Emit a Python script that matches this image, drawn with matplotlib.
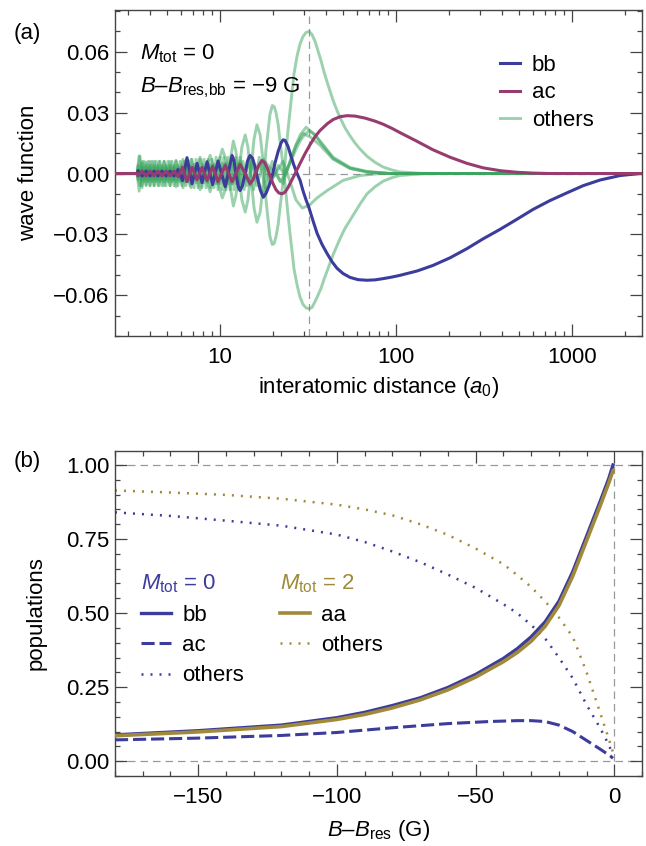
import numpy as np
import matplotlib.pyplot as plt
from matplotlib.ticker import MultipleLocator, FixedLocator, LogLocator, FuncFormatter, NullFormatter

#---------- STYLE -----------------------
plt.rcParams['font.family'] = 'Liberation Sans'
plt.rcParams['mathtext.fontset'] = 'custom'
plt.rcParams['mathtext.rm'] = 'Liberation Sans'
plt.rcParams['mathtext.it'] = 'Liberation Sans:italic'
plt.rcParams['font.size'] = 16

BLUE = '#3c3c9c'
MAGENTA = '#963c6e'
GREEN = '#3aa45e'
OLIVE = '#a08a3a'
FRAME = '#444444'
REF = '#999999'

#---------- DATA (a): wave function components vs r (a0) -----------------------
r_mark = 32.1          # dashed marker radius

r_bb = [2.53, 3.38, 3.42, 3.61, 3.80, 4.00, 4.22, 4.44, 4.68, 4.93,
        5.20, 5.48, 5.77, 6.12, 6.49, 6.93, 7.40, 7.90, 8.44, 9.07,
        9.74, 10.7, 11.7, 12.0, 12.3, 12.7, 13.0, 13.4, 13.9, 14.3,
        14.8, 15.3, 15.8, 16.3, 16.9, 17.6, 18.2, 19.0, 19.8, 20.5,
        21.4, 22.2, 22.8, 23.4, 24.3, 25.3, 26.3, 27.4, 28.5, 29.6,
        30.8, 32.1, 33.8, 35.6, 38.0, 40.6, 43.3, 46.2, 50.0, 54.8,
        60.8, 68.4, 76.0, 84.4, 95.0, 105, 132, 162, 203, 253,
        312, 390, 487, 600, 750, 937, 1155, 1443, 1874, 2434, 2500]
wf_bb = [0, 0, 0.0015, -0.0012, 0.0012, -0.0012, 0.0012, -0.0012, 0.0012, -0.0012,
         0.0012, -0.0012, 0.002, -0.0035, 0.0078, -0.005, 0.005, -0.0045, 0.0058, -0.0055,
         0.0062, -0.0065, 0.0089, 0.0065, 0.0, -0.0065, -0.0084, -0.006, 0.0, 0.006,
         0.0089, 0.0075, 0.0035, -0.002, -0.008, -0.0117, -0.010, -0.006, -0.001, 0.005,
         0.011, 0.015, 0.0166, 0.0163, 0.0135, 0.0085, 0.004, 0.0, -0.0034, -0.0085,
         -0.013, -0.0172, -0.0235, -0.0295, -0.035, -0.0395, -0.0435, -0.0467, -0.0493, -0.0512,
         -0.0523, -0.0526, -0.0524, -0.0518, -0.051, -0.0502, -0.048, -0.0453, -0.0415, -0.037,
         -0.0322, -0.0275, -0.0225, -0.0177, -0.0133, -0.0095, -0.006, -0.0032, -0.001, 0, 0]

r_ac = [2.53, 3.38, 3.42, 3.61, 3.80, 4.00, 4.22, 4.44, 4.68, 4.93,
        5.20, 5.48, 5.77, 6.12, 6.49, 6.93, 7.40, 7.90, 8.44, 9.07,
        9.74, 10.7, 11.7, 12.3, 13.0, 13.9, 14.8, 15.4, 16.0, 16.7,
        17.3, 17.9, 18.5, 19.2, 20.0, 20.8, 21.6, 22.5, 23.4, 24.3,
        25.3, 26.7, 28.5, 30.4, 32.5, 34.7, 37.0, 40.6, 43.9, 48.1,
        52.7, 58.5, 66.7, 76.0, 84.4, 95.0, 105, 132, 162, 203,
        253, 312, 390, 487, 600, 750, 2500]
wf_ac = [0, 0, -0.0012, 0.0012, -0.0012, 0.0012, -0.0012, 0.0012, -0.0012, 0.0012,
         -0.0012, 0.0012, -0.0015, 0.003, -0.004, 0.003, -0.003, 0.003, -0.0035, 0.0035,
         -0.004, 0.004, -0.004, 0.0, 0.0045, 0.0, -0.005, -0.003, 0.001, 0.0045,
         0.0064, 0.0055, 0.003, -0.001, -0.005, -0.008, -0.0096, -0.010, -0.0092, -0.007,
         -0.004, 0.0, 0.005, 0.0098, 0.0143, 0.0182, 0.0212, 0.0245, 0.0266, 0.028,
         0.0285, 0.0283, 0.0273, 0.0258, 0.0243, 0.0222, 0.0202, 0.0158, 0.0117, 0.008,
         0.005, 0.0028, 0.0014, 0.0006, 0.0002, 0, 0]

# two large closed-channel components (slow oscillation)
r_slow = [2.53, 3.38, 3.47, 3.61, 3.80, 4.00, 4.22, 4.50, 4.81, 5.20,
          5.62, 6.16, 6.84, 7.70, 8.78, 10.3, 10.8, 11.3, 11.9, 12.3,
          12.8, 13.3, 13.9, 14.4, 15.0, 15.6, 16.2, 16.9, 17.3, 17.8,
          18.2, 18.7, 19.2, 19.8, 20.3, 20.8, 21.4, 21.9, 22.5, 23.1,
          23.7, 24.3, 25.0, 25.7, 26.3, 27.4, 28.5, 29.6, 30.8, 32.1,
          33.3, 34.7, 36.0, 37.5, 39.0, 40.6, 42.2, 43.9, 46.2, 48.7,
          51.3, 54.8, 58.5, 62.5, 68.4, 76.0, 84.4, 95.0, 105, 137, 178, 2500]
wf_oth_a = [0, 0, 0.0087, -0.006, 0.0055, -0.006, 0.006, -0.006, 0.006, -0.006,
            0.0065, -0.007, 0.007, -0.008, 0.009, -0.012, -0.007, 0.004, 0.016, 0.011,
            0.0, -0.013, -0.019, -0.013, 0.002, 0.017, 0.024, 0.019, 0.011, 0.002,
            -0.012, -0.022, -0.031, -0.035, -0.0345, -0.031, -0.025, -0.017, -0.0085, 0.0,
            0.011, 0.021, 0.031, 0.041, 0.049, 0.058, 0.064, 0.0675, 0.0695, 0.070,
            0.0685, 0.065, 0.0605, 0.0555, 0.050, 0.045, 0.0405, 0.036, 0.031, 0.0265,
            0.0225, 0.0185, 0.015, 0.012, 0.0085, 0.0055, 0.0032, 0.0017, 0.0008, 0.0001, 0, 0]
wf_oth_b = [0, 0, -0.0087, 0.006, -0.0055, 0.006, -0.006, 0.006, -0.006, 0.006,
            -0.0065, 0.007, -0.007, 0.008, -0.009, 0.012, 0.007, -0.004, -0.016, -0.011,
            0.0, 0.013, 0.019, 0.013, -0.002, -0.017, -0.024, -0.019, -0.011, -0.002,
            0.011, 0.020, 0.029, 0.0335, 0.033, 0.030, 0.024, 0.016, 0.008, 0.0,
            -0.010, -0.020, -0.030, -0.039, -0.047, -0.055, -0.061, -0.0645, -0.0662, -0.0666,
            -0.066, -0.063, -0.060, -0.0565, -0.052, -0.048, -0.044, -0.040, -0.0355, -0.031,
            -0.027, -0.023, -0.019, -0.015, -0.010, -0.0065, -0.0038, -0.002, -0.001, -0.0002, 0, 0]

# two fast-oscillating components
r_fast_d = [2.53, 3.38, 3.51, 3.60, 3.70, 3.80, 3.90, 4.00, 4.11, 4.22, 4.33, 4.44, 4.56, 4.68, 4.81,
            4.93, 5.06, 5.20, 5.34, 5.48, 5.62, 5.77, 5.93, 6.08, 6.24, 6.41, 6.58, 6.76, 6.93, 7.12,
            7.31, 7.50, 7.70, 7.90, 8.11, 8.33, 8.55, 8.78, 9.01, 9.25, 9.49, 9.74, 10.0, 10.3, 10.5,
            10.8, 11.1, 11.4, 11.7, 12.0, 12.3, 12.7, 13.0,
            13.7, 14.5, 15.5, 16.7, 18.0, 19.8, 21.9, 23.7, 25.0, 26.7, 28.5, 30.8, 34.7, 37.0, 43.9,
            54.8, 68.4, 92.5, 2500]
wf_oth_d = [0, 0, 0.0085, -0.007, 0.006, -0.006, 0.006, -0.006, 0.006, -0.006, 0.006, -0.006, 0.006,
            -0.006, 0.006, -0.006, 0.006, -0.006, 0.006, -0.006, 0.006, -0.006, 0.006, -0.006, 0.006,
            -0.006, 0.006, -0.006, 0.007, -0.007, 0.007, -0.007, 0.007, -0.007, 0.007, -0.007, 0.007,
            -0.007, 0.007, -0.007, 0.008, -0.008, 0.008, -0.008, 0.008, -0.008, 0.008, -0.008, 0.008,
            -0.008, 0.008, -0.008, 0.008,
            -0.008, 0.008, -0.008, 0.008, -0.007, 0.006, -0.004, 0.0, 0.006, 0.013, 0.019, 0.0228,
            0.019, 0.016, 0.008, 0.003, 0.001, 0, 0]
r_fast_e = [2.53, 3.38, 3.51, 3.60, 3.70, 3.80, 3.90, 4.00, 4.11, 4.22, 4.33, 4.44, 4.56, 4.68, 4.81,
            4.93, 5.06, 5.20, 5.34, 5.48, 5.62, 5.77, 5.93, 6.08, 6.24, 6.41, 6.58, 6.76, 6.93, 7.12,
            7.31, 7.50, 7.70, 7.90, 8.11, 8.33, 8.55, 8.78, 9.01, 9.25, 9.49, 9.74, 10.0, 10.3, 10.5,
            10.8, 11.1, 11.4, 11.7, 12.0, 12.3, 12.7, 13.0,
            13.5, 14.2, 15.2, 16.2, 17.6, 19.2, 21.4, 23.1, 25.0, 26.7, 28.5, 30.4, 32.1, 34.7, 37.0,
            43.9, 54.8, 68.4, 92.5, 2500]
wf_oth_e = [0, 0, -0.006, 0.005, -0.004, 0.004, -0.004, 0.004, -0.004, 0.004, -0.004, 0.004,
            -0.004, 0.004, -0.004, 0.004, -0.004, 0.004, -0.004, 0.004, -0.004, 0.004,
            -0.004, 0.004, -0.004, 0.004, -0.004, 0.004, -0.0045, 0.0045, -0.0045, 0.0045,
            -0.0045, 0.0045, -0.0045, 0.0045, -0.0045, 0.0045, -0.0045, 0.0045, -0.005, 0.005,
            -0.005, 0.005, -0.005, 0.005, -0.005, 0.005, -0.005, 0.005, -0.005, 0.005, -0.005,
            0.006, -0.006, 0.006, -0.006, 0.005, -0.005, 0.004, 0.0, 0.005, 0.011, 0.016, 0.0195,
            0.021, 0.019, 0.0155, 0.0075, 0.0025, 0.0008, 0, 0]

# two medium components
r_mid = [2.53, 3.38, 3.42, 3.61, 3.80, 4.00, 4.22, 4.44, 4.68, 4.93, 5.20, 5.48, 5.77, 6.12, 6.49,
         6.93, 7.40, 7.90, 8.44, 9.07, 9.74, 10.7, 11.7, 13.0, 14.8, 17.6, 22.8,
         25.0, 27.0, 29.3, 32.1, 35.6, 40.6, 50.0, 62.5, 81.1, 2500]
wf_oth_c = [0, 0, 0.004, -0.003, 0.003, -0.003, 0.003, -0.003, 0.003, -0.003, 0.003, -0.003, 0.003,
            -0.003, 0.003, -0.003, 0.003, -0.003, 0.004, -0.004, 0.005, -0.006, 0.006, -0.007, 0.007,
            -0.010, 0.006,
            -0.004, -0.013, -0.017, -0.0157, -0.012, -0.0084, -0.0034, -0.001, 0, 0]
r_mid_f = [2.53, 3.38, 3.42, 3.61, 3.80, 4.00, 4.22, 4.44, 4.68, 4.93, 5.20, 5.48, 5.77, 6.12, 6.49,
           6.93, 7.40, 7.90, 8.44, 9.07, 9.74, 10.7, 11.7, 13.0, 14.8, 17.6, 22.8,
           25.0, 27.0, 29.6, 32.5, 37.0, 43.9, 54.8, 68.4, 92.5, 2500]
wf_oth_f = [0, 0, -0.003, 0.003, -0.003, 0.003, -0.003, 0.003, -0.003, 0.003, -0.003, 0.003, -0.003,
            0.003, -0.003, 0.003, -0.003, 0.003, -0.003, 0.004, -0.005, 0.005, -0.005, 0.006, -0.006,
            0.007, -0.005,
            0.006, 0.014, 0.0197, 0.018, 0.014, 0.007, 0.0025, 0.0008, 0, 0]

others_r = [r_fast_d, r_fast_e, r_mid, r_mid_f, r_slow, r_slow]
others_wf = [wf_oth_d, wf_oth_e, wf_oth_c, wf_oth_f, wf_oth_a, wf_oth_b]

#---------- DATA (b): populations vs B - B_res (G) -----------------------
b_res = 0.0

dB_bb = [-180, -150, -120, -100, -90, -80, -70, -60, -50, -40, -35, -30, -25, -20, -15, -10, -5, -2, -0.5]
pop_bb = [0.089, 0.103, 0.122, 0.147, 0.165, 0.188, 0.214, 0.249, 0.293, 0.347, 0.38, 0.42, 0.47, 0.54,
          0.64, 0.76, 0.88, 0.955, 1.0]
pop_aa = [0.086, 0.099, 0.117, 0.141, 0.158, 0.180, 0.207, 0.241, 0.284, 0.336, 0.367, 0.405, 0.455,
          0.525, 0.625, 0.745, 0.865, 0.94, 0.98]

dB_ac = [-180, -150, -120, -100, -80, -60, -45, -35, -30, -25, -20, -15, -10, -5, -1.5, -0.5]
pop_ac = [0.072, 0.078, 0.087, 0.097, 0.113, 0.127, 0.134, 0.137, 0.137, 0.134, 0.122, 0.100, 0.070,
          0.040, 0.018, 0.010]

dB_oth = [-180, -160, -140, -120, -100, -90, -80, -70, -60, -50, -40, -35, -30, -25, -20, -15, -10, -5, -2, -0.5]
pop_oth0 = [0.840, 0.828, 0.812, 0.795, 0.765, 0.740, 0.708, 0.672, 0.630, 0.585, 0.53, 0.50, 0.46,
            0.415, 0.35, 0.28, 0.19, 0.11, 0.055, 0.02]
pop_oth2 = [0.914, 0.907, 0.899, 0.886, 0.866, 0.850, 0.830, 0.800, 0.764, 0.718, 0.665, 0.628, 0.588,
            0.54, 0.485, 0.42, 0.30, 0.16, 0.075, 0.03]


#---------- HELPERS -----------------------
def fmt_dec(v, pos):
    if abs(v) < 1e-9:
        v = 0.0
    return f'{v:.2f}'.replace('-', '\u2212')


def fmt_int(v, pos):
    if abs(v) < 1e-9:
        v = 0.0
    return f'{v:.0f}'.replace('-', '\u2212')


def style_frame(ax):
    for s in ax.spines.values():
        s.set_color(FRAME)
        s.set_linewidth(1.0)
    ax.tick_params(which='both', direction='in', top=True, right=True, color=FRAME, width=0.9,
                   labelsize=16)
    ax.tick_params(which='major', length=8.5)
    ax.tick_params(which='minor', length=3.5)
    ax.tick_params(axis='x', pad=8)
    ax.tick_params(axis='y', pad=4)


# ── PLOT ──────────────────────────────────────────────────
fig = plt.figure(figsize=(6.46, 8.46), dpi=100)
ax1 = fig.add_axes([0.178, 0.603, 0.816, 0.385])
ax2 = fig.add_axes([0.178, 0.0827, 0.816, 0.3845])

# (a) wave function
ax1.set_xscale('log')
ax1.axhline(0, color=REF, linewidth=0.9, dashes=(6, 4), zorder=1)
ax1.axvline(r_mark, color=REF, linewidth=0.9, dashes=(6, 4), zorder=1)

h_oth = None
for rr, ww in zip(others_r, others_wf):
    h, = ax1.plot(rr, ww, color=GREEN, alpha=0.5, linewidth=2.1, solid_joinstyle='round', zorder=2)
    h_oth = h
h_bb, = ax1.plot(r_bb, wf_bb, color=BLUE, linewidth=2.2, solid_joinstyle='round', zorder=3)
h_ac, = ax1.plot(r_ac, wf_ac, color=MAGENTA, linewidth=2.2, solid_joinstyle='round', zorder=4)

ax1.set_xlim(2.53, 2500)
ax1.set_ylim(-0.08, 0.0805)
ax1.xaxis.set_major_locator(FixedLocator([10, 100, 1000]))
ax1.xaxis.set_major_formatter(FuncFormatter(lambda v, p: f'{v:g}'))
ax1.xaxis.set_minor_locator(LogLocator(base=10, subs=range(2, 10)))
ax1.xaxis.set_minor_formatter(NullFormatter())
ax1.yaxis.set_major_locator(MultipleLocator(0.03))
ax1.yaxis.set_minor_locator(MultipleLocator(0.01))
ax1.yaxis.set_major_formatter(FuncFormatter(fmt_dec))
style_frame(ax1)
ax1.set_xlabel('interatomic distance ($a_0$)', fontsize=16, labelpad=5)
ax1.set_ylabel('wave function', fontsize=16)
ax1.yaxis.set_label_coords(-0.144, 0.5)

ax1.text(0.047, 0.850, r'$M_{\mathrm{tot}}$ = 0', transform=ax1.transAxes, fontsize=16, va='baseline')
ax1.text(0.047, 0.749, '$B$\u2013$B_{\\mathrm{res{,}bb}}$ = \u22129 G', transform=ax1.transAxes,
         fontsize=16, va='baseline')
ax1.legend([h_bb, h_ac, h_oth], ['bb', 'ac', 'others'], loc='upper left', bbox_to_anchor=(0.73, 0.862),
           frameon=False, handlelength=0.9, handletextpad=0.55, labelspacing=0.28, borderpad=0,
           borderaxespad=0, fontsize=16)
fig.text(0.042, 0.960, '(a)', fontsize=16, ha='center', va='center')

# (b) populations
ax2.axhline(0, color=REF, linewidth=0.9, dashes=(6, 4), zorder=1)
ax2.axhline(1, color=REF, linewidth=0.9, dashes=(6, 4), zorder=1)
ax2.vlines(b_res, 0, 1, color=REF, linewidth=0.9, linestyles=(0, (6, 4)), zorder=1)

h_o0, = ax2.plot(dB_oth, pop_oth0, color=BLUE, linewidth=1.8, linestyle=(0, (0.8, 2.8)), zorder=2)
h_o2, = ax2.plot(dB_oth, pop_oth2, color=OLIVE, linewidth=1.8, linestyle=(0, (0.8, 2.8)), zorder=2)
h_ac2, = ax2.plot(dB_ac, pop_ac, color=BLUE, linewidth=2.2, linestyle=(0, (4.3, 1.6)), zorder=3)
h_bb2, = ax2.plot(dB_bb, pop_bb, color=BLUE, linewidth=2.4, zorder=3)
h_aa, = ax2.plot(dB_bb, pop_aa, color=OLIVE, linewidth=2.6, zorder=4)

ax2.set_xlim(-180, 10)
ax2.set_ylim(-0.05, 1.048)
ax2.xaxis.set_major_locator(MultipleLocator(50))
ax2.xaxis.set_minor_locator(MultipleLocator(10))
ax2.xaxis.set_major_formatter(FuncFormatter(fmt_int))
ax2.yaxis.set_major_locator(MultipleLocator(0.25))
ax2.yaxis.set_minor_locator(MultipleLocator(0.05))
ax2.yaxis.set_major_formatter(FuncFormatter(fmt_dec))
style_frame(ax2)
ax2.set_xlabel('$B$\u2013$B_{\\mathrm{res}}$ (G)', fontsize=16, labelpad=7)
ax2.set_ylabel('populations', fontsize=16)
ax2.yaxis.set_label_coords(-0.129, 0.5)

leg0 = ax2.legend([h_bb2, h_ac2, h_o0], ['bb', 'ac', 'others'], title=r'$M_{\mathrm{tot}}$ = 0',
                  loc='upper left', bbox_to_anchor=(0.05, 0.625), frameon=False, handlelength=1.35,
                  handletextpad=0.5, labelspacing=0.42, borderpad=0, borderaxespad=0, fontsize=16,
                  title_fontsize=16, alignment='left')
leg0.get_title().set_color(BLUE)
ax2.add_artist(leg0)
leg2 = ax2.legend([h_aa, h_o2], ['aa', 'others'], title=r'$M_{\mathrm{tot}}$ = 2',
                  loc='upper left', bbox_to_anchor=(0.313, 0.625), frameon=False, handlelength=1.35,
                  handletextpad=0.5, labelspacing=0.42, borderpad=0, borderaxespad=0, fontsize=16,
                  title_fontsize=16, alignment='left')
leg2.get_title().set_color(OLIVE)
fig.text(0.042, 0.455, '(b)', fontsize=16, ha='center', va='center')

fig.savefig('out.png', dpi=100)
